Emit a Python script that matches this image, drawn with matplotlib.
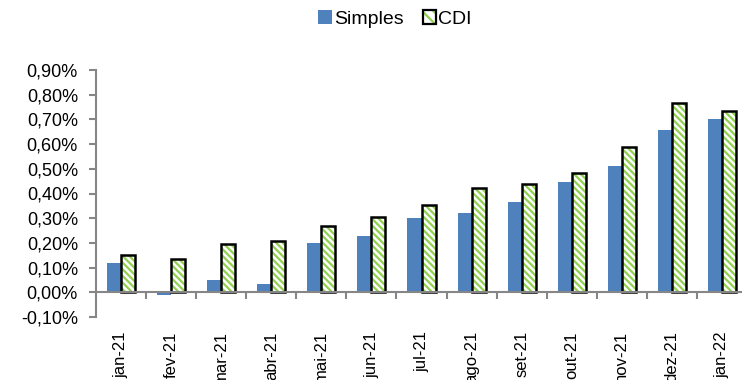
import matplotlib.pyplot as plt
import matplotlib.patches as mpatches
from matplotlib.legend_handler import HandlerTuple
import numpy as np

meses = ['jan-21', 'fev-21', 'mar-21', 'abr-21', 'mai-21', 'jun-21', 'jul-21',
         'ago-21', 'set-21', 'out-21', 'nov-21', 'dez-21', 'jan-22']
simples = [0.12, -0.01, 0.05, 0.035, 0.20, 0.226, 0.30, 0.32, 0.365, 0.445, 0.51, 0.657, 0.70]
cdi = [0.15, 0.135, 0.197, 0.208, 0.268, 0.304, 0.355, 0.423, 0.438, 0.481, 0.589, 0.766, 0.734]

plt.rcParams['font.family'] = ['Liberation Sans', 'DejaVu Sans']
plt.rcParams['hatch.linewidth'] = 1.6

azul = '#4F81BD'
verde = '#92D050'
cinza = '#868686'
hachura = '\\' * 5

fig = plt.figure(figsize=(7.42, 3.80), dpi=100)
ax = fig.add_axes([96 / 742, 1 - 317 / 380, 651 / 742, 247 / 380])

x = np.arange(len(meses))
w = 0.28
ax.bar(x - w / 2, simples, w, color=azul)
# CDI: fundo branco com hachura verde e contorno preto
ax.bar(x + w / 2, cdi, w, facecolor='white', edgecolor=verde, hatch=hachura, linewidth=0)
ax.bar(x + w / 2, cdi, w, fill=False, edgecolor='black', linewidth=1.8)

ax.set_xlim(-0.5, len(meses) - 0.5)
ax.set_ylim(-0.1, 0.9)
ax.set_yticks(np.arange(-0.1, 0.91, 0.1))
ax.set_yticklabels([f'{v:.2f}%'.replace('.', ',') for v in np.arange(-0.1, 0.91, 0.1)],
                   fontsize=13)
ax.tick_params(axis='y', direction='out', length=5, color=cinza, width=1.5, pad=8)

ax.spines['top'].set_visible(False)
ax.spines['right'].set_visible(False)
ax.spines['left'].set_color(cinza)
ax.spines['left'].set_linewidth(1.5)
ax.spines['bottom'].set_position(('data', 0))
ax.spines['bottom'].set_color(cinza)
ax.spines['bottom'].set_linewidth(1.5)

ax.set_xticks(x)
ax.set_xticklabels(meses, rotation=90, fontsize=12, va='top')
ax.set_xticks(x[:-1] + 0.5, minor=True)
ax.tick_params(axis='x', which='major', length=0, pad=28)
ax.tick_params(axis='x', which='minor', direction='out', length=5, color=cinza, width=1.5)

h1 = mpatches.Patch(facecolor=azul)
h2a = mpatches.Patch(facecolor='white', edgecolor=verde, hatch='\\\\\\', linewidth=0)
h2b = mpatches.Patch(fill=False, edgecolor='black', linewidth=1.6)
fig.legend([h1, (h2a, h2b)], ['Simples', 'CDI'],
           handler_map={tuple: HandlerTuple(ndivide=1)},
           loc='center', bbox_to_anchor=(395 / 742, 1 - 19 / 380), ncol=2, frameon=False,
           fontsize=14, handlelength=0.7, handleheight=0.7, handletextpad=0.1,
           columnspacing=1.0)

fig.savefig('out.png', dpi=100)
